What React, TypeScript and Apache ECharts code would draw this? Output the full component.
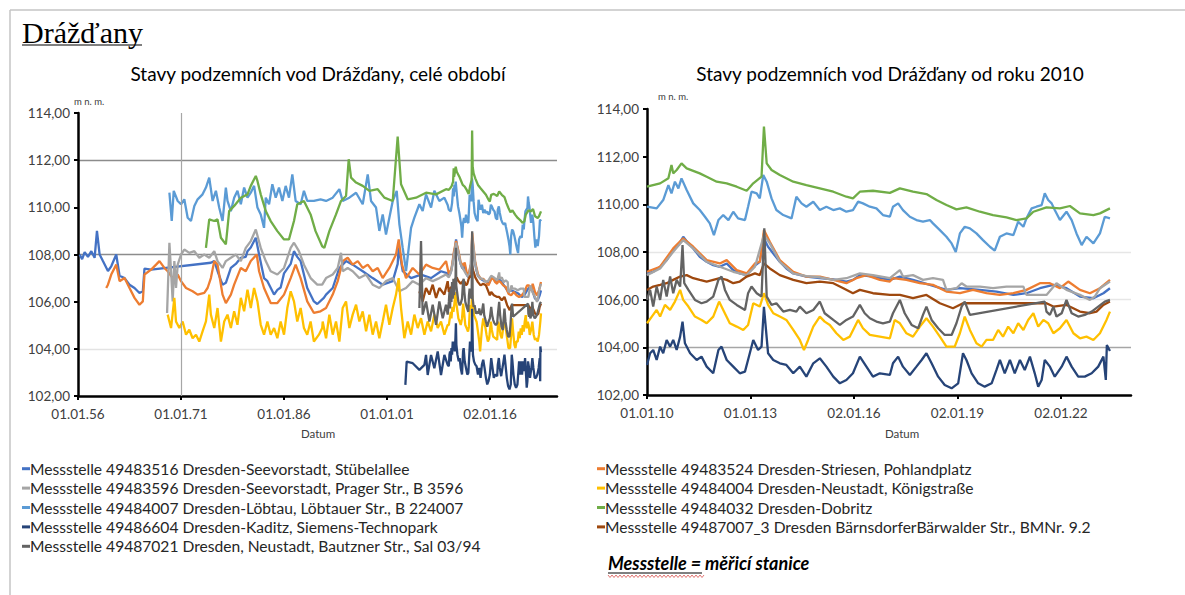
import React, { useEffect, useRef } from "react";
import * as echarts from "echarts";

// ---------- DATA ----------
const stationNames: string[] = [
  "Messstelle 49483516 Dresden-Seevorstadt, Stübelallee",
  "Messstelle 49483524 Dresden-Striesen, Pohlandplatz",
  "Messstelle 49483596 Dresden-Seevorstadt, Prager Str., B 3596",
  "Messstelle 49484004 Dresden-Neustadt, Königstraße",
  "Messstelle 49484007 Dresden-Löbtau, Löbtauer Str., B 224007",
  "Messstelle 49484032 Dresden-Dobritz",
  "Messstelle 49486604 Dresden-Kaditz, Siemens-Technopark",
  "Messstelle 49487007_3 Dresden BärnsdorferBärwalder Str., BMNr. 9.2",
  "Messstelle 49487021 Dresden, Neustadt, Bautzner Str., Sal 03/94",
];
const stationColors: string[] = [
  "#4472C4", "#ED7D31", "#A5A5A5", "#FFC000", "#5B9BD5", "#70AD47", "#264478", "#9E480E", "#636363",
];

// [decimal year, level m n. m.]
const stubelallee: [number, number][] = [
  [1956.24,108.0],[1956.6,107.8],[1956.97,108.1],[1957.45,107.9],[1957.94,108.14],[1958.42,107.86],[1958.76,109.0],[1959.15,108.0],[1959.63,107.72],[1960.36,107.3],[1960.84,107.5],[1961.57,108.0],[1962.05,107.1],[1962.78,107.0],[1963.5,106.72],[1964.23,106.58],[1964.95,106.37],[1965.44,106.44],[1965.68,107.4],[1966.65,107.36],
  [1975.35,107.65],[1975.84,107.72],[1976.32,107.3],[1976.81,106.9],[1977.05,106.72],[1977.53,106.8],[1978.26,107.43],[1978.98,107.6],[1979.71,107.86],[1980.43,107.9],[1980.68,108.14],[1981.16,108.3],[1981.89,108.71],[1982.37,108.0],[1983.09,107.0],[1983.58,106.87],[1984.55,106.3],[1985.03,106.5],[1985.51,106.6],[1986.0,107.2],[1986.97,107.6],[1987.45,108.14],[1987.93,107.9],[1988.42,107.72],[1989.38,106.58],[1990.35,106.01],[1990.84,105.9],[1991.8,106.16],
  [1992.12,106.3],[1993.09,106.58],[1994.06,107.43],[1995.03,107.72],[1996.0,107.57],[1997.46,107.29],[1998.91,107.0],[2000.37,106.72],[2001.83,106.87],[2002.55,107.6],[2002.7,108.3],[2003.28,107.3],[2004.5,107.0],[2005.95,107.15],[2007.41,107.0],[2008.86,107.29],[2009.83,107.2],
  [2010.0,107.1],[2010.18,107.17],[2010.38,107.38],[2010.57,107.66],[2010.76,108.08],[2010.91,108.29],[2011.05,108.64],[2011.2,108.36],[2011.34,108.15],[2011.53,107.8],[2011.73,107.59],[2011.92,107.45],[2012.11,107.38],[2012.31,107.52],[2012.5,107.24],[2012.69,107.1],[2012.89,107.03],[2013.08,107.38],[2013.27,107.59],[2013.39,108.57],[2013.51,108.22],[2013.66,107.94],[2013.85,107.59],[2014.04,107.31],[2014.24,107.1],[2014.62,106.97],[2015.01,106.9],[2015.4,106.85],[2015.78,106.76],[2015.97,106.83],[2016.17,107.03],[2016.55,106.97],[2017.04,106.83],
  [2017.33,106.97],[2017.71,106.83],[2018.2,106.62],[2018.68,106.41],[2019.07,106.48],[2019.65,106.41],[2020.13,106.34],[2020.62,106.2],[2021.0,106.27],[2021.39,106.48],[2021.78,106.62],[2022.16,106.48],[2022.55,106.13],[2022.94,106.06],[2023.23,106.27],[2023.42,106.48],
];
const striesen: [number, number][] = [
  [1960.11,106.58],[1960.36,106.72],[1960.84,107.15],[1961.57,107.57],[1962.05,106.87],[1962.78,107.0],[1963.5,106.58],[1964.23,106.16],[1964.95,105.87],[1965.44,106.01],[1965.68,107.15],[1966.65,107.36],[1967.37,107.57],[1967.86,107.72],[1968.58,107.43],[1969.06,107.29],[1969.79,107.0],[1970.52,107.15],[1971.0,106.87],[1971.73,106.58],[1972.69,106.44],[1973.42,106.3],[1974.39,106.37],[1974.87,106.58],[1975.35,107.0],[1975.84,107.72],[1976.32,107.57],[1977.05,106.3],[1977.53,105.94],[1978.26,106.3],[1978.74,106.72],[1979.71,107.43],[1980.43,107.29],[1981.16,107.72],[1982.03,108.0],[1982.37,107.29],[1983.09,106.58],[1984.06,105.94],[1985.03,105.94],[1986.0,106.3],[1986.97,107.0],[1987.69,107.57],[1988.42,107.0],[1989.38,106.01],[1990.35,105.52],[1991.32,105.59],
  [1992.12,105.73],[1993.09,106.3],[1993.82,106.87],[1994.54,107.72],[1995.27,107.86],[1996.0,107.57],[1996.74,107.72],[1997.46,107.43],[1998.19,107.57],[1998.91,107.29],[1999.64,107.43],[2000.37,107.0],[2001.34,107.43],[2002.31,108.0],[2002.7,108.64],[2003.18,107.57],[2003.77,107.0],[2004.74,107.43],[2005.71,107.15],[2006.68,107.57],[2007.65,107.43],[2008.62,107.36],[2009.59,107.72],
  [2010.0,107.17],[2010.38,107.38],[2010.76,108.15],[2011.05,108.57],[2011.34,108.22],[2011.73,107.66],[2012.11,107.52],[2012.31,107.66],[2012.6,107.24],[2012.89,107.1],[2013.13,107.52],[2013.27,107.59],[2013.39,108.92],[2013.56,108.43],[2013.85,107.66],[2014.24,107.17],[2014.62,106.97],[2015.01,106.97],[2015.4,106.83],[2015.78,106.69],[2016.07,106.9],[2016.36,107.03],[2016.75,106.83],[2017.04,106.76],
  [2017.13,106.9],[2017.52,106.83],[2017.91,106.69],[2018.29,106.62],[2018.68,106.34],[2019.07,106.27],[2019.45,106.41],[2019.84,106.27],[2020.23,106.2],[2020.62,106.27],[2021.0,106.41],[2021.39,106.69],[2021.68,106.69],[2021.97,106.48],[2022.21,106.76],[2022.55,106.41],[2022.84,106.27],[2023.13,106.48],[2023.42,106.83],
];
const pragerStr: [number, number][] = [
  [1968.97,105.52],[1969.31,108.5],[1969.55,107.29],[1969.79,106.01],[1970.03,107.72],[1970.27,106.58],[1970.52,107.57],[1971.0,108.0],[1971.48,108.21],[1972.21,108.07],[1972.94,108.14],[1973.66,107.86],[1974.39,108.0],[1975.11,107.86],[1975.84,108.14],[1976.32,107.72],[1977.05,107.43],[1977.53,107.72],[1978.26,107.86],[1978.98,108.0],[1979.71,107.72],[1980.43,108.28],[1981.16,108.57],[1981.89,109.06],[1982.61,108.28],[1983.34,107.72],[1984.06,107.29],[1985.03,107.15],[1986.0,107.43],[1986.97,108.28],[1987.45,108.5],[1988.17,108.14],[1988.9,107.57],[1989.87,107.0],[1990.84,106.72],[1991.56,106.72],
  [1992.12,107.0],[1993.09,107.15],[1993.82,107.43],[1994.3,108.07],[1994.54,107.29],[1995.27,107.43],[1996.0,107.29],[1996.97,107.0],[1997.95,107.15],[1998.91,106.72],[1999.88,106.58],[2000.85,106.87],[2001.83,107.0],[2002.8,106.44],[2003.77,106.58],[2004.74,106.87],[2005.71,106.72],[2006.68,107.0],[2007.65,106.87],[2008.62,107.0],[2009.59,107.15],
  [2010.0,107.03],[2010.38,107.31],[2010.76,108.01],[2011.05,108.5],[2011.34,108.15],[2011.73,107.59],[2012.11,107.38],[2012.5,107.17],[2012.89,107.03],[2013.13,107.38],[2013.39,108.71],[2013.56,108.36],[2013.85,107.59],[2014.24,107.1],[2014.62,106.99],[2015.01,106.94],[2015.4,106.83],[2015.78,106.9],[2016.17,107.1],[2016.55,107.03],[2017.04,106.9],
  [2017.33,107.24],[2017.42,106.97],[2017.71,107.03],[2018.0,106.83],[2018.29,106.9],[2018.58,106.83],[2018.68,106.41],[2018.97,106.48],[2019.12,106.69],[2019.26,106.55],[2019.65,106.55],[2020.03,106.48],[2020.42,106.55],[2020.91,106.55],[2021.0,106.2],[2021.39,106.2],[2021.58,106.2],[2021.87,106.69],[2022.16,106.41],[2022.55,106.2],[2022.84,105.99],[2022.98,106.13],[2023.13,106.48],[2023.42,106.76],
];
const koenigstrasse: [number, number][] = [
  [1969.06,105.45],[1969.55,104.88],[1970.03,106.16],[1970.27,105.16],[1970.76,104.88],[1971.24,105.16],[1971.73,104.6],[1972.21,104.81],[1972.69,104.45],[1973.18,104.6],[1973.66,104.31],[1974.14,104.74],[1974.63,105.16],[1975.11,106.3],[1975.35,105.45],[1975.84,104.88],[1976.32,105.73],[1976.81,104.31],[1977.29,105.16],[1977.77,105.45],[1978.26,104.88],[1978.74,105.59],[1979.22,105.02],[1979.71,106.16],[1980.19,105.59],[1980.68,106.51],[1981.16,105.73],[1981.64,106.58],[1982.13,106.01],[1982.61,105.02],[1983.09,104.6],[1983.58,105.16],[1984.06,104.6],[1984.55,104.88],[1985.03,104.45],[1985.51,105.16],[1986.0,104.6],[1986.48,105.73],[1986.97,106.44],[1987.45,106.01],[1987.93,105.16],[1988.42,105.73],[1988.9,104.88],[1989.38,104.6],[1989.87,105.16],[1990.35,104.31],[1991.08,104.6],[1991.56,104.88],
  [1991.63,105.16],[1992.12,104.45],[1992.6,105.45],[1993.09,104.6],[1993.57,105.16],[1994.06,104.31],[1994.54,105.73],[1995.03,106.01],[1995.51,104.88],[1996.0,105.45],[1996.49,105.87],[1996.97,105.16],[1997.46,105.59],[1997.95,104.74],[1998.43,105.45],[1998.91,104.6],[1999.4,105.16],[1999.88,104.45],[2000.37,105.16],[2000.85,105.87],[2001.34,105.02],[2001.83,105.73],[2002.31,106.3],[2002.7,107.0],[2003.04,105.73],[2003.52,104.45],[2004.01,105.16],[2004.5,104.6],[2004.98,105.45],[2005.47,104.88],[2005.95,105.3],[2006.44,104.6],[2006.92,105.16],[2007.41,104.74],[2007.89,105.45],[2008.38,104.88],[2008.86,105.16],[2009.35,104.6],[2009.83,105.02],
  [2010.0,105.01],[2010.14,105.29],[2010.28,105.57],[2010.38,105.29],[2010.52,105.78],[2010.67,105.57],[2010.81,105.92],[2010.96,106.41],[2011.05,105.99],[2011.2,105.71],[2011.39,105.29],[2011.58,105.15],[2011.73,105.01],[2011.92,105.29],[2012.09,105.92],[2012.21,105.57],[2012.4,105.01],[2012.6,104.87],[2012.79,104.73],[2012.93,104.94],[2013.08,105.85],[2013.27,105.71],[2013.39,106.27],[2013.51,105.78],[2013.66,105.43],[2013.85,105.29],[2014.04,105.15],[2014.24,104.73],[2014.43,104.31],[2014.55,103.89],[2014.67,104.31],[2014.82,104.87],[2015.01,105.29],[2015.15,105.08],[2015.3,104.94],[2015.49,104.59],[2015.69,104.31],[2015.88,104.45],[2016.12,105.15],[2016.26,104.8],[2016.46,104.52],[2016.75,104.45],[2017.04,104.38],
  [2017.18,105.15],[2017.33,105.01],[2017.52,104.59],[2017.71,104.45],[2017.91,104.87],[2018.1,105.22],[2018.29,104.87],[2018.49,104.45],[2018.68,104.03],[2018.92,104.03],[2019.07,104.59],[2019.21,105.29],[2019.36,104.73],[2019.55,104.17],[2019.7,104.03],[2019.84,104.31],[2020.03,104.31],[2020.18,104.73],[2020.32,104.45],[2020.47,104.87],[2020.62,104.59],[2020.76,105.01],[2020.91,104.73],[2021.05,105.15],[2021.2,105.43],[2021.34,104.87],[2021.49,105.15],[2021.63,105.01],[2021.78,104.59],[2021.97,104.8],[2022.16,105.15],[2022.36,104.59],[2022.55,104.38],[2022.74,104.45],[2022.94,104.31],[2023.13,104.59],[2023.32,105.15],[2023.42,105.5],
];
const loebtau: [number, number][] = [
  [1969.31,110.62],[1969.65,109.42],[1969.94,110.7],[1970.52,110.27],[1971.0,110.13],[1971.48,110.34],[1971.97,109.56],[1972.45,109.42],[1972.94,110.06],[1973.42,110.34],[1974.14,110.55],[1974.63,110.84],[1975.11,111.26],[1975.6,110.27],[1976.08,110.7],[1976.56,109.99],[1977.05,109.42],[1977.53,110.84],[1977.77,110.27],[1978.26,109.84],[1978.74,110.41],[1979.22,110.7],[1979.71,110.13],[1980.19,110.84],[1980.68,110.41],[1981.16,110.62],[1981.64,110.91],[1982.13,109.99],[1982.61,109.7],[1983.09,109.13],[1983.34,110.41],[1983.82,110.13],[1984.3,110.98],[1984.79,110.41],[1985.27,110.84],[1985.76,110.27],[1986.24,110.91],[1986.72,110.41],[1987.21,111.4],[1987.69,110.27],[1988.42,110.13],[1988.9,110.7],[1989.38,110.27],[1990.35,110.27],[1991.32,110.34],
  [1992.12,110.27],[1993.09,110.41],[1994.06,110.77],[1994.54,110.27],[1995.51,110.41],[1996.49,110.62],[1997.46,110.13],[1998.19,111.4],[1998.67,110.27],[1999.4,109.99],[1999.88,109.0],[2000.37,109.7],[2000.85,108.85],[2001.34,109.56],[2001.83,110.27],[2002.41,110.7],[2002.8,109.28],[2003.28,108.28],[2003.77,107.3],[2004.5,109.13],[2004.98,109.56],[2005.71,110.13],[2006.19,109.84],[2006.68,110.55],[2007.41,109.99],[2007.89,110.7],[2008.62,110.27],[2009.35,110.41],[2009.83,110.1],
  [2010.0,109.9],[2010.28,109.83],[2010.47,110.18],[2010.62,110.81],[2010.71,110.46],[2010.81,110.95],[2010.91,110.67],[2011.0,111.09],[2011.15,110.6],[2011.34,110.04],[2011.53,109.76],[2011.68,109.48],[2011.82,109.2],[2011.94,108.71],[2012.07,109.34],[2012.21,109.55],[2012.36,109.34],[2012.5,109.69],[2012.64,109.41],[2012.84,109.34],[2012.93,109.9],[2013.03,110.53],[2013.18,110.46],[2013.27,110.25],[2013.37,111.23],[2013.47,110.95],[2013.61,110.25],[2013.75,109.76],[2013.95,109.55],[2014.19,109.41],[2014.33,110.32],[2014.48,110.04],[2014.62,109.9],[2014.82,110.11],[2015.01,109.76],[2015.2,109.9],[2015.4,109.76],[2015.59,109.83],[2015.78,109.69],[2015.97,109.76],[2016.12,110.11],[2016.26,110.04],[2016.46,109.9],[2016.65,109.83],[2016.84,109.55],[2017.04,109.48],
  [2017.13,109.9],[2017.28,110.04],[2017.42,109.76],[2017.62,109.48],[2017.81,109.34],[2018.0,109.27],[2018.2,109.34],[2018.29,109.2],[2018.49,108.92],[2018.68,108.64],[2018.83,108.36],[2018.95,108.0],[2019.07,108.78],[2019.21,109.06],[2019.36,108.99],[2019.55,108.78],[2019.74,108.5],[2019.94,108.22],[2020.08,108.06],[2020.23,108.64],[2020.42,108.78],[2020.62,108.71],[2020.76,109.27],[2020.91,109.06],[2021.0,109.41],[2021.15,109.83],[2021.29,109.9],[2021.44,109.97],[2021.53,110.46],[2021.63,110.18],[2021.73,110.04],[2021.82,109.76],[2021.97,109.34],[2022.16,109.69],[2022.31,109.34],[2022.45,108.78],[2022.6,108.29],[2022.74,108.64],[2022.94,108.36],[2023.13,108.78],[2023.27,109.48],[2023.42,109.41],
];
const dobritz: [number, number][] = [
  [1974.63,108.28],[1975.11,109.49],[1975.84,109.42],[1976.32,109.49],[1976.81,108.71],[1977.53,108.43],[1977.77,109.13],[1978.01,109.84],[1978.74,110.06],[1979.71,110.41],[1980.68,110.55],[1981.16,110.91],[1981.89,111.33],[1982.13,111.12],[1982.61,110.55],[1983.34,109.84],[1984.06,109.42],[1985.03,108.99],[1986.0,108.64],[1986.72,108.64],[1987.45,109.42],[1987.93,110.13],[1988.9,110.27],[1989.87,109.7],[1990.59,108.99],[1991.56,108.35],
  [1991.87,108.28],[1992.6,108.99],[1993.57,109.7],[1994.3,110.27],[1995.03,110.48],[1995.42,112.04],[1995.76,111.26],[1996.49,111.05],[1997.46,110.91],[1998.43,110.7],[1999.64,110.77],[2000.61,110.41],[2001.83,110.27],[2002.55,113.0],[2003.04,110.98],[2004.01,110.34],[2005.22,110.41],[2006.68,110.62],[2008.14,110.55],[2009.59,110.77],
  [2010.0,110.74],[2010.38,110.88],[2010.62,111.09],[2010.71,111.65],[2010.76,111.3],[2010.86,111.44],[2011.0,111.72],[2011.15,111.51],[2011.53,111.3],[2011.73,111.16],[2012.02,110.95],[2012.31,110.88],[2012.6,110.74],[2012.89,110.57],[2013.08,110.88],[2013.32,111.16],[2013.39,113.26],[2013.47,111.72],[2013.61,111.44],[2013.85,111.23],[2014.24,110.95],[2014.62,110.81],[2015.01,110.67],[2015.4,110.53],[2015.78,110.32],[2015.97,110.25],[2016.17,110.53],[2016.55,110.57],[2017.04,110.48],
  [2017.33,110.67],[2017.71,110.53],[2018.1,110.43],[2018.39,110.18],[2018.68,109.97],[2018.97,109.79],[2019.26,109.87],[2019.65,109.69],[2020.03,109.55],[2020.42,109.45],[2020.71,109.34],[2021.0,109.41],[2021.2,109.69],[2021.58,109.87],[2021.97,109.83],[2022.26,109.93],[2022.55,109.62],[2022.94,109.55],[2023.13,109.62],[2023.42,109.83],
];
const kaditz: [number, number][] = [
  [2003.67,102.47],[2003.86,103.46],[2004.74,103.39],[2005.71,103.11],[2006.44,103.32],[2006.68,103.74],[2006.92,102.89],[2007.41,103.74],[2007.89,103.18],[2008.38,103.89],[2008.86,102.89],[2009.35,103.74],[2009.83,103.32],
  [2010.0,103.26],[2010.09,103.75],[2010.18,103.89],[2010.28,103.47],[2010.38,104.03],[2010.47,103.75],[2010.57,104.31],[2010.67,104.03],[2010.76,104.31],[2010.86,103.89],[2010.96,104.45],[2011.03,105.08],[2011.1,104.17],[2011.25,103.75],[2011.44,103.47],[2011.58,103.61],[2011.73,103.19],[2011.92,102.91],[2012.07,103.89],[2012.16,104.03],[2012.31,103.47],[2012.5,103.19],[2012.69,102.91],[2012.84,102.98],[2012.98,103.75],[2013.08,104.31],[2013.22,103.89],[2013.32,104.03],[2013.39,105.7],[2013.51,103.75],[2013.66,103.47],[2013.85,103.33],[2014.04,103.26],[2014.24,102.91],[2014.43,103.19],[2014.62,102.77],[2014.82,103.33],[2015.01,103.54],[2015.2,103.19],[2015.4,102.77],[2015.59,102.49],[2015.78,102.63],[2015.97,102.91],[2016.17,103.61],[2016.36,103.19],[2016.55,102.77],[2016.75,102.91],[2017.04,102.84],
  [2017.13,103.33],[2017.28,103.61],[2017.42,103.19],[2017.62,102.84],[2017.81,103.19],[2017.96,103.47],[2018.1,103.75],[2018.25,103.33],[2018.44,102.77],[2018.63,102.42],[2018.83,102.28],[2019.02,102.49],[2019.16,103.75],[2019.26,103.47],[2019.41,102.91],[2019.6,102.49],[2019.79,102.35],[2019.99,102.49],[2020.13,103.05],[2020.23,103.47],[2020.37,102.91],[2020.52,103.47],[2020.66,102.91],[2020.81,103.47],[2020.95,103.05],[2021.1,103.61],[2021.24,102.91],[2021.34,102.35],[2021.44,102.63],[2021.53,103.47],[2021.68,103.19],[2021.82,102.77],[2022.02,103.19],[2022.16,103.61],[2022.31,103.19],[2022.5,102.77],[2022.69,102.77],[2022.89,102.91],[2023.08,103.19],[2023.23,103.61],[2023.3,102.63],[2023.33,104.1],[2023.42,103.85],
];
const baernsdorfer: [number, number][] = [
  [2005.71,106.44],[2006.19,106.01],[2006.68,106.58],[2007.17,106.3],[2007.65,106.72],[2008.14,106.16],[2008.62,106.58],[2009.35,106.3],[2009.83,106.87],
  [2010.0,106.41],[2010.18,106.55],[2010.38,106.62],[2010.57,106.69],[2010.76,106.83],[2010.96,106.97],[2011.15,107.03],[2011.34,106.9],[2011.53,106.83],[2011.73,106.76],[2011.92,106.83],[2012.11,106.9],[2012.31,106.83],[2012.5,106.69],[2012.69,106.76],[2012.89,106.97],[2013.13,107.1],[2013.27,107.03],[2013.39,107.52],[2013.56,107.31],[2013.85,107.03],[2014.24,106.83],[2014.62,106.69],[2015.01,106.76],[2015.4,106.69],[2015.69,106.48],[2015.97,106.27],[2016.17,106.41],[2016.55,106.27],[2017.04,106.2],
  [2017.33,106.2],[2017.71,106.06],[2018.1,106.2],[2018.49,105.85],[2018.87,105.64],[2019.16,105.85],[2019.26,105.85],[2021.58,105.85],[2021.78,105.71],[2022.16,105.78],[2022.55,105.5],[2022.84,105.43],[2023.03,105.5],[2023.23,105.78],[2023.42,105.92],
];
const bautznerStr: [number, number][] = [
  [2005.71,105.73],[2005.95,108.57],[2006.19,105.45],[2006.68,106.01],[2007.17,105.16],[2007.65,105.87],[2008.14,105.02],[2008.62,106.01],[2009.11,105.3],[2009.59,105.87],[2009.83,105.45],
  [2010.0,105.99],[2010.09,106.41],[2010.18,105.71],[2010.28,106.55],[2010.38,105.99],[2010.47,106.83],[2010.57,106.13],[2010.67,106.97],[2010.76,106.27],[2010.86,106.83],[2010.96,106.55],[2011.03,108.29],[2011.08,106.69],[2011.2,106.41],[2011.39,105.99],[2011.58,105.85],[2011.73,105.92],[2011.92,106.13],[2012.07,106.83],[2012.16,106.97],[2012.26,106.41],[2012.4,105.99],[2012.6,105.78],[2012.84,105.57],[2012.93,106.27],[2013.03,106.55],[2013.18,106.27],[2013.32,106.13],[2013.4,108.99],[2013.47,106.13],[2013.61,105.78],[2013.75,105.85],[2013.95,105.5],[2014.14,105.57],[2014.33,105.5],[2014.43,105.71],[2014.62,105.43],[2014.82,105.57],[2015.01,105.92],[2015.15,105.43],[2015.4,105.15],[2015.59,104.94],[2015.78,105.15],[2015.97,105.29],[2016.17,105.78],[2016.31,105.43],[2016.46,105.22],[2016.65,105.08],[2016.84,105.01],[2017.04,105.08],
  [2017.13,105.43],[2017.33,105.99],[2017.47,105.43],[2017.67,104.94],[2017.86,104.8],[2018.0,105.36],[2018.1,105.71],[2018.25,105.15],[2018.44,104.8],[2018.63,104.52],[2018.83,104.52],[2018.97,105.01],[2019.12,105.71],[2019.21,105.92],[2019.36,105.36],[2021.53,105.92],[2021.58,105.5],[2021.68,105.36],[2021.78,105.71],[2021.87,105.29],[2022.02,105.43],[2022.16,105.99],[2022.31,105.43],[2022.5,105.29],[2022.69,105.36],[2022.89,105.5],[2023.08,105.71],[2023.27,105.92],[2023.42,105.99],
];

const stationData = [
  stubelallee, striesen, pragerStr, koenigstrasse, loebtau, dobritz, kaditz, baernsdorfer, bautznerStr,
];

const leftTickYears: number[] = [1956, 1971, 1986, 2001, 2016];
const leftTickLabels: string[] = ["01.01.56", "01.01.71", "01.01.86", "01.01.01", "02.01.16"];
const rightTickYears: number[] = [2010, 2013, 2016, 2019, 2022];
const rightTickLabels: string[] = ["01.01.10", "01.01.13", "02.01.16", "02.01.19", "02.01.22"];
const yMin = 102;
const yMax = 114;
const yStep = 2;
const rightStartYear = 2010;

const FONT = "Lato";
const T = "rgba(0,0,0,0)";

function fmtY(v: number) {
  return v.toFixed(2).replace(".", ",");
}

function xAxisFor(gridIndex: number, min: number, max: number, years: number[], labels: string[]) {
  return {
    type: "value",
    gridIndex,
    min,
    max,
    axisLine: { show: true, lineStyle: { color: "#000", width: 2.5 } },
    axisTick: { show: true, customValues: years, length: 4, lineStyle: { color: "#000", width: 2 } },
    axisLabel: {
      customValues: years,
      color: "#404040",
      fontFamily: FONT,
      fontSize: 13.5,
      margin: 11,
      formatter: (v: number) => {
        const i = years.findIndex((y) => Math.abs(y - v) < 0.01);
        return i >= 0 ? labels[i] : "";
      },
    },
    splitLine: { show: false },
  };
}

function yAxisFor(gridIndex: number, splitColors: string[]) {
  return {
    type: "value",
    gridIndex,
    min: yMin,
    max: yMax,
    interval: yStep,
    axisLine: { show: true, lineStyle: { color: "#000", width: 2.5 } },
    axisTick: { show: true, length: 4, lineStyle: { color: "#000", width: 2 } },
    axisLabel: { color: "#404040", fontFamily: FONT, fontSize: 13.5, margin: 8, formatter: fmtY },
    splitLine: { show: true, lineStyle: { color: splitColors, width: 1.3 } },
  };
}

function legendFor(left: number, names: string[]) {
  return {
    left,
    top: 454,
    orient: "vertical",
    icon: "rect",
    itemWidth: 8,
    itemHeight: 3,
    itemGap: 0,
    selectedMode: false,
    data: names,
    textStyle: { color: "#262626", fontFamily: FONT, fontSize: 15.6, lineHeight: 19.4, padding: [0, 0, 0, -5] },
  };
}

function buildOption() {
  const series: any[] = [];
  stationData.forEach((d, i) => {
    const base = {
      name: stationNames[i],
      type: "line",
      showSymbol: false,
      symbol: "none",
      silent: true,
      lineStyle: { width: 2.3, color: stationColors[i] },
      itemStyle: { color: stationColors[i] },
    };
    const left: any = { ...base, xAxisIndex: 0, yAxisIndex: 0, data: d };
    if (i === 0) {
      left.markLine = {
        silent: true,
        symbol: ["none", "none"],
        label: { show: false },
        lineStyle: { color: "#a6a6a6", width: 1.2, type: "solid" },
        data: [{ xAxis: leftTickYears[1] }],
      };
    }
    series.push(left);
    series.push({ ...base, xAxisIndex: 1, yAxisIndex: 1, data: d.filter((p) => p[0] >= rightStartYear) });
  });

  const wavy: number[][] = [];
  for (let x = 608; x <= 704; x += 2) wavy.push([x, x % 4 === 0 ? 575 : 577.5]);

  return {
    animation: false,
    backgroundColor: "#fff",
    grid: [
      { left: 78, top: 113, width: 479, height: 283 },
      { left: 647, top: 109, width: 484, height: 286 },
    ],
    xAxis: [
      xAxisFor(0, 1956, 2025.75, leftTickYears, leftTickLabels),
      xAxisFor(1, 2010, 2024.03, rightTickYears, rightTickLabels),
    ],
    yAxis: [
      yAxisFor(0, [T, "#e3e3e3", T, "#8c8c8c", T, "#8c8c8c", T]),
      yAxisFor(1, [T, "#a6a6a6", "#e6e6e6", "#e6e6e6", T, T, T]),
    ],
    legend: [
      legendFor(17, [stationNames[0], stationNames[2], stationNames[4], stationNames[6], stationNames[8]]),
      legendFor(592, [stationNames[1], stationNames[3], stationNames[5], stationNames[7]]),
    ],
    graphic: [
      { type: "line", shape: { x1: 10, y1: 10, x2: 1185, y2: 10 }, style: { stroke: "#c4c4c4", lineWidth: 1.5 } },
      { type: "line", shape: { x1: 10, y1: 10, x2: 10, y2: 595 }, style: { stroke: "#c4c4c4", lineWidth: 1.5 } },
      {
        type: "text",
        x: 22,
        y: 32,
        style: { text: "Drážďany", font: "30px 'Liberation Serif'", fill: "#000", textVerticalAlign: "middle" },
      },
      { type: "line", shape: { x1: 22, y1: 45, x2: 142, y2: 45 }, style: { stroke: "#000", lineWidth: 1.2 } },
      {
        type: "text",
        x: 318,
        y: 73,
        style: {
          text: "Stavy podzemních vod Drážďany, celé období",
          font: `19px ${FONT}`,
          fill: "#000",
          textAlign: "center",
          textVerticalAlign: "middle",
        },
      },
      {
        type: "text",
        x: 890,
        y: 73,
        style: {
          text: "Stavy podzemních vod Drážďany od roku 2010",
          font: `19px ${FONT}`,
          fill: "#000",
          textAlign: "center",
          textVerticalAlign: "middle",
        },
      },
      { type: "text", x: 74, y: 101, style: { text: "m n. m.", font: `9.5px ${FONT}`, fill: "#404040", textVerticalAlign: "middle" } },
      { type: "text", x: 658, y: 96, style: { text: "m n. m.", font: `9.5px ${FONT}`, fill: "#404040", textVerticalAlign: "middle" } },
      { type: "text", x: 318, y: 433, style: { text: "Datum", font: `11.5px ${FONT}`, fill: "#404040", textAlign: "center", textVerticalAlign: "middle" } },
      { type: "text", x: 902, y: 433, style: { text: "Datum", font: `11.5px ${FONT}`, fill: "#404040", textAlign: "center", textVerticalAlign: "middle" } },
      {
        type: "text",
        x: 608,
        y: 563,
        style: {
          text: "Messstelle = měřicí stanice",
          font: `italic bold 18px ${FONT}`,
          fill: "#000",
          textVerticalAlign: "middle",
        },
      },
      { type: "line", shape: { x1: 608, y1: 573, x2: 702, y2: 573 }, style: { stroke: "#000", lineWidth: 1 } },
      { type: "polyline", shape: { points: wavy }, style: { stroke: "#d9534f", lineWidth: 0.8, fill: "none" } },
    ],
    series,
  };
}

export default function App() {
  const ref = useRef<HTMLDivElement>(null);
  useEffect(() => {
    if (!ref.current) return;
    const chart = echarts.init(ref.current, undefined, { renderer: "svg" });
    chart.setOption(buildOption() as any);
    return () => chart.dispose();
  }, []);
  return (
    <div
      ref={ref}
      style={{ position: "absolute", left: 0, top: 0, width: 1185, height: 595, background: "#fff" }}
    />
  );
}
